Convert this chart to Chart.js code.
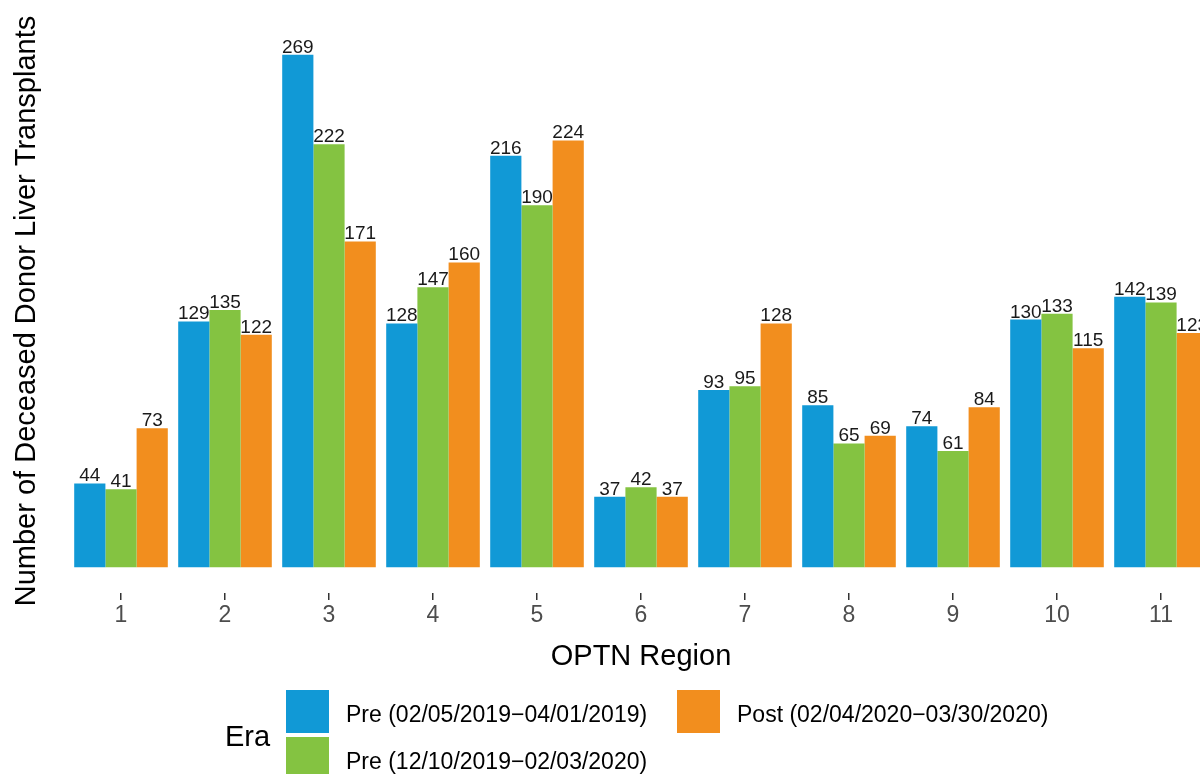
<!DOCTYPE html>
<html>
<head>
<meta charset="utf-8">
<script src="https://cdn.jsdelivr.net/npm/chart.js@4.4.0/dist/chart.umd.min.js"></script>
<style>
    html, body { margin: 0; padding: 0; overflow: hidden; background: #fff; }
    #wrap { width: 1200px; height: 774px; overflow: hidden; }
</style>
</head>
<body>
<div id="wrap"><canvas id="chart" width="1240" height="774"></canvas></div>
<script>
// data
const regions = ['1', '2', '3', '4', '5', '6', '7', '8', '9', '10', '11'];
const preEarly = [44, 129, 269, 128, 216, 37, 93, 85, 74, 130, 142];
const preLate = [41, 135, 222, 147, 190, 42, 95, 65, 61, 133, 139];
const post = [73, 122, 171, 160, 224, 37, 128, 69, 84, 115, 123];
const eraLabels = [
    'Pre (02/05/2019\u221204/01/2019)',
    'Pre (12/10/2019\u221202/03/2020)',
    'Post (02/04/2020\u221203/30/2020)'
];
const eraColors = ['#1199d6', '#84c341', '#f28e1e'];

const FONT = '"Liberation Sans", Arial, sans-serif';

// value labels above the bars
const barLabels = {
    id: 'barLabels',
    afterDatasetsDraw(chart) {
        const ctx = chart.ctx;
        ctx.save();
        ctx.font = '19px ' + FONT;
        ctx.fillStyle = '#1a1a1a';
        ctx.textAlign = 'center';
        ctx.textBaseline = 'alphabetic';
        chart.data.datasets.forEach((ds, i) => {
            chart.getDatasetMeta(i).data.forEach((bar, j) => {
                ctx.fillText(ds.data[j], bar.x, bar.y - 2);
            });
        });
        ctx.restore();
    }
};

// ggplot-like legend: title on the left, keys filled column by column
const eraLegend = {
    id: 'eraLegend',
    afterDraw(chart) {
        const ctx = chart.ctx;
        const slots = [[286, 690], [286, 737], [677, 690]];
        ctx.save();
        ctx.fillStyle = '#000';
        ctx.font = '29px ' + FONT;
        ctx.textAlign = 'left';
        ctx.textBaseline = 'alphabetic';
        ctx.fillText('Era', 225, 746);
        ctx.font = '23px ' + FONT;
        chart.data.datasets.forEach((ds, i) => {
            const [x, y] = slots[i];
            ctx.fillStyle = ds.backgroundColor;
            ctx.fillRect(x, y, 43, 43);
            ctx.fillStyle = '#000';
            ctx.fillText(ds.label, x + 60, y + 32);
        });
        ctx.restore();
    }
};

const ctx = document.getElementById('chart').getContext('2d');
const chart = new Chart(ctx, {
    type: 'bar',
    data: {
        labels: regions,
        datasets: [preEarly, preLate, post].map((vals, i) => ({
            label: eraLabels[i],
            data: vals,
            backgroundColor: eraColors[i],
            borderWidth: 0,
            categoryPercentage: 0.9,
            barPercentage: 1.0
        }))
    },
    options: {
        responsive: false,
        animation: false,
        devicePixelRatio: 1,
        layout: {
            padding: { top: 29, right: 27, bottom: 100, left: 0 }
        },
        plugins: {
            legend: { display: false },
            tooltip: { enabled: false }
        },
        scales: {
            x: {
                grid: {
                    display: true,
                    drawOnChartArea: false,
                    drawTicks: true,
                    tickLength: 7,
                    offset: false,
                    color: '#333333',
                    lineWidth: 1.5
                },
                border: { display: false },
                ticks: {
                    color: '#4d4d4d',
                    font: { family: FONT, size: 23 },
                    padding: 2
                },
                title: {
                    display: true,
                    text: 'OPTN Region',
                    color: '#000',
                    font: { family: FONT, size: 29 },
                    padding: 0
                },
                afterFit(axis) {
                    axis.height = 81;
                }
            },
            y: {
                min: -13.45,
                max: 282.45,
                grid: { display: false },
                border: { display: false },
                ticks: { display: false },
                title: {
                    display: true,
                    text: 'Number of Deceased Donor Liver Transplants',
                    color: '#000',
                    font: { family: FONT, size: 29 },
                    padding: { top: 10, bottom: 24 }
                },
                afterFit(axis) {
                    axis.width = 69;
                }
            }
        }
    },
    plugins: [barLabels, eraLegend]
});
</script>
</body>
</html>
